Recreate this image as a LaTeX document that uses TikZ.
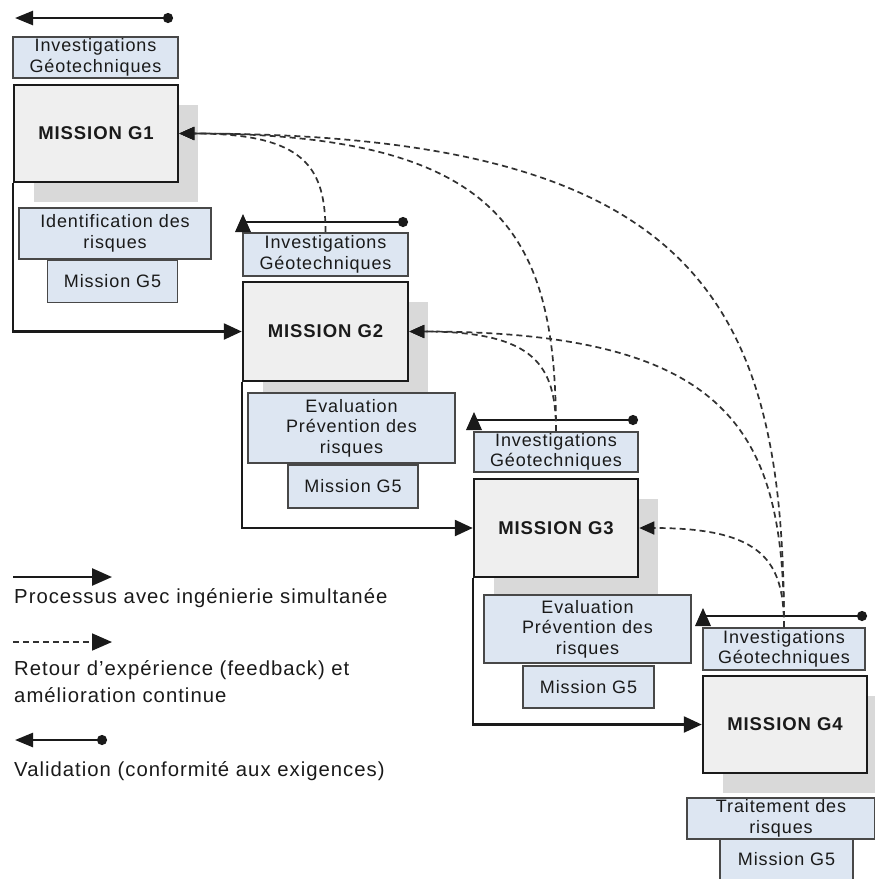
\documentclass[tikz,border=0pt]{standalone}
\usepackage{fontspec}
\setmainfont{Liberation Sans}[LetterSpace=5]
\usetikzlibrary{arrows.meta,calc,shadows}
\definecolor{boxblue}{HTML}{DDE6F2}
\definecolor{missgray}{HTML}{EFEFEF}
\definecolor{shadegray}{HTML}{D9D9D9}
\definecolor{ink}{HTML}{1A1A1A}

% dashed feedback curve: leaves the top of an investigation box upwards
% and bends into the right side of an earlier mission
\newcommand\feedback[2]{%
  \draw[fback] (#1.north)
    .. controls ($(#1.north|-#2.east)!0.34!(#1.north)$)
       and ($(#2.east)!0.86!(#1.north|-#2.east)$) .. (#2.east);}

\begin{document}
\begin{tikzpicture}[x=1pt,y=-1pt,
  mission/.style={draw=ink, line width=2.5pt, fill=missgray, inner sep=0pt,
    font=\bfseries\fontsize{18.5}{22}\selectfont, text=ink,
    general shadow={fill=shadegray, shadow xshift=20pt, shadow yshift=-20pt}},
  info/.style={draw=ink!80, line width=1.7pt, fill=boxblue, inner sep=0pt,
    align=center, font=\fontsize{18}{20.5}\selectfont, text=ink},
  legend/.style={anchor=base west, inner sep=0pt,
    font=\fontsize{20.3}{23}\selectfont, text=ink},
  proc/.style={draw=ink, line width=2.5pt, -{Triangle[length=18pt,width=16pt]}},
  legproc/.style={draw=ink, line width=2.5pt, -{Triangle[length=20pt,width=17pt]}},
  fback/.style={draw=ink!90, line width=1.7pt, dash pattern=on 6pt off 4pt,
    -{Triangle[length=15pt,width=13pt,fill=ink,color=ink]}},
  legfback/.style={draw=ink!90, line width=1.7pt, dash pattern=on 6pt off 4pt,
    -{Triangle[length=20pt,width=17pt,fill=ink,color=ink]}},
  valid/.style={draw=ink, line width=2.5pt},
  uptri/.pic={\fill[ink] (0,-8) -- (-8,10) -- (8,10) -- cycle;}
]
\useasboundingbox (0,0) rectangle (875,879);
\clip (0,0) rectangle (875,879);
\fill[white] (0,0) rectangle (875,879);

% ---------- Mission G1 ----------
\node[info, minimum width=165pt, minimum height=41pt] (inv1) at (95.5,57.5)
  {Investigations\\Géotechniques};
\node[mission, minimum width=164pt, minimum height=97pt] (m1) at (96,133.5) {MISSION G1};
\node[info, minimum width=192pt, minimum height=51pt] (id1) at (115,233.5)
  {Identification des\\risques};
\node[info, minimum width=130pt, minimum height=42pt] (g5a) at (112.5,281.5) {Mission G5};

% ---------- Mission G2 ----------
\node[info, minimum width=165pt, minimum height=43pt] (inv2) at (325.5,254.5)
  {Investigations\\Géotechniques};
\node[mission, minimum width=165pt, minimum height=99pt] (m2) at (325.5,331.5) {MISSION G2};
\node[info, minimum width=207pt, minimum height=70pt] (ev2) at (351.5,428)
  {Evaluation\\Prévention des\\risques};
\node[info, minimum width=130pt, minimum height=43pt] (g5b) at (353,486.5) {Mission G5};

% ---------- Mission G3 ----------
\node[info, minimum width=164pt, minimum height=40pt] (inv3) at (556,452)
  {Investigations\\Géotechniques};
\node[mission, minimum width=164pt, minimum height=98pt] (m3) at (556,528) {MISSION G3};
\node[info, minimum width=207pt, minimum height=68pt] (ev3) at (587.5,629)
  {Evaluation\\Prévention des\\risques};
\node[info, minimum width=131pt, minimum height=42pt] (g5c) at (588.5,687) {Mission G5};

% ---------- Mission G4 ----------
\node[info, minimum width=162pt, minimum height=42pt] (inv4) at (784,649)
  {Investigations\\Géotechniques};
\node[mission, minimum width=164pt, minimum height=97pt] (m4) at (785,724.5) {MISSION G4};
\node[info, minimum width=188pt, minimum height=41pt] (tr4) at (781,818.5)
  {Traitement des\\risques};
\node[info, minimum width=133pt, minimum height=41pt] (g5d) at (786.5,859.5) {Mission G5};

% ---------- validation lines ----------
\coordinate (v1a) at (15,18);   \coordinate (v1b) at (173,18);
\coordinate (v2a) at (243,222); \coordinate (v2b) at (408,222);
\coordinate (v3a) at (474,420); \coordinate (v3b) at (638,420);
\coordinate (v4a) at (703,616); \coordinate (v4b) at (867,616);
\draw[valid, {Triangle[length=18pt,width=14pt]}-{Circle[length=10pt]}] (v1a) -- (v1b);
\draw[valid, -{Circle[length=10pt]}] (v2a) -- (v2b);
\draw[valid, -{Circle[length=10pt]}] (v3a) -- (v3b);
\draw[valid, -{Circle[length=10pt]}] (v4a) -- (v4b);
\pic at (v2a) {uptri};
\pic at (v3a) {uptri};
\pic at (v4a) {uptri};

% ---------- process (simultaneous engineering) ----------
\draw[proc] (m1.south west) |- (m2.west);
\draw[proc] (m2.south west) |- (m3.west);
\draw[proc] (m3.south west) |- (m4.west);

% ---------- feedback loops ----------
\feedback{inv2}{m1}
\feedback{inv3}{m1}
\feedback{inv4}{m1}
\feedback{inv3}{m2}
\feedback{inv4}{m2}
\feedback{inv4}{m3}

% ---------- legend ----------
\coordinate (l1a) at (13,577);  \coordinate (l1b) at (112,577);
\coordinate (l2a) at (13,642);  \coordinate (l2b) at (112,642);
\coordinate (l3a) at (15,740);  \coordinate (l3b) at (107,740);
\draw[legproc] (l1a) -- (l1b);
\node[legend] (t1) at (14,603) {Processus avec ingénierie simultanée};
\draw[legfback] (l2a) -- (l2b);
\node[legend] (t2) at (14,675) {Retour d’expérience (feedback) et};
\node[legend] (t2b) at (14,702) {amélioration continue};
\draw[valid, {Triangle[length=18pt,width=14pt]}-{Circle[length=10pt]}] (l3a) -- (l3b);
\node[legend] (t3) at (14,776) {Validation (conformité aux exigences)};
\end{tikzpicture}
\end{document}
